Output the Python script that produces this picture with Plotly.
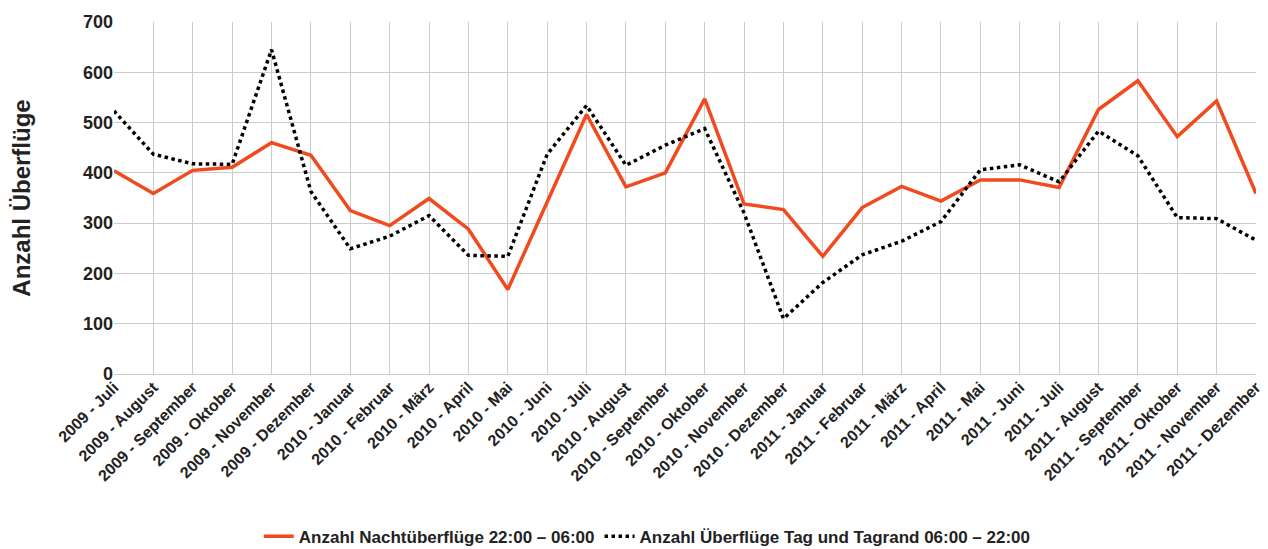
import plotly.graph_objects as go

categories = [
    "2009 - Juli", "2009 - August", "2009 - September", "2009 - Oktober", "2009 - November", "2009 - Dezember",
    "2010 - Januar", "2010 - Februar", "2010 - März", "2010 - April", "2010 - Mai", "2010 - Juni",
    "2010 - Juli", "2010 - August", "2010 - September", "2010 - Oktober", "2010 - November", "2010 - Dezember",
    "2011 - Januar", "2011 - Februar", "2011 - März", "2011 - April", "2011 - Mai", "2011 - Juni",
    "2011 - Juli", "2011 - August", "2011 - September", "2011 - Oktober", "2011 - November", "2011 - Dezember",
]

nacht = [404, 359, 405, 411, 460, 435, 325, 295, 349, 288, 168, 340,
         516, 372, 400, 547, 338, 327, 234, 331, 373, 344, 386, 386,
         371, 526, 583, 472, 543, 359]

tag = [523, 437, 418, 417, 645, 363, 249, 274, 315, 236, 234, 437,
       534, 415, 455, 488, 320, 110, 182, 237, 264, 303, 406, 416,
       382, 483, 434, 311, 309, 266]

y_ticks = [0, 100, 200, 300, 400, 500, 600, 700]

fig = go.Figure()
fig.add_trace(go.Scatter(
    x=categories, y=nacht, mode="lines",
    name="Anzahl Nachtüberflüge 22:00 – 06:00",
    line=dict(color="#F04A1E", width=3.5),
))
fig.add_trace(go.Scatter(
    x=categories, y=tag, mode="lines",
    name="Anzahl Überflüge Tag und Tagrand 06:00 – 22:00",
    line=dict(color="#000000", width=3.5, dash="dot"),
))

fig.update_layout(
    width=1260, height=541,
    margin=dict(l=106, r=12, t=14, b=175, autoexpand=False),
    paper_bgcolor="white", plot_bgcolor="white",
    font=dict(family="Liberation Sans, Arial, sans-serif", color="#222222"),
    showlegend=True,
    legend=dict(
        orientation="h", x=0.467, xanchor="center", y=-0.462, yanchor="middle",
        font=dict(size=17, color="#222222", family="Liberation Sans, Arial", weight="bold"),
        itemwidth=30, tracegroupgap=0,
    ),
    xaxis=dict(
        type="category", tickangle=-45, showgrid=True, gridcolor="#CCCCCC", gridwidth=1,
        showline=False, zeroline=False, ticks="", range=[0, 29], automargin=False,
        tickfont=dict(size=16, family="Liberation Sans, Arial", color="#222222", weight="bold"),
    ),
    yaxis=dict(
        range=[0, 700], tickvals=y_ticks, showgrid=True, gridcolor="#CCCCCC", gridwidth=1,
        zeroline=True, zerolinecolor="#CCCCCC", zerolinewidth=1, showline=False, ticks="",
        automargin=False,
        tickfont=dict(size=18, family="Liberation Sans, Arial", color="#222222", weight="bold"),
        title=dict(text="<b>Anzahl Überflüge</b>", font=dict(size=24, color="#222222"), standoff=52),
    ),
)

fig.write_html("out.html")
